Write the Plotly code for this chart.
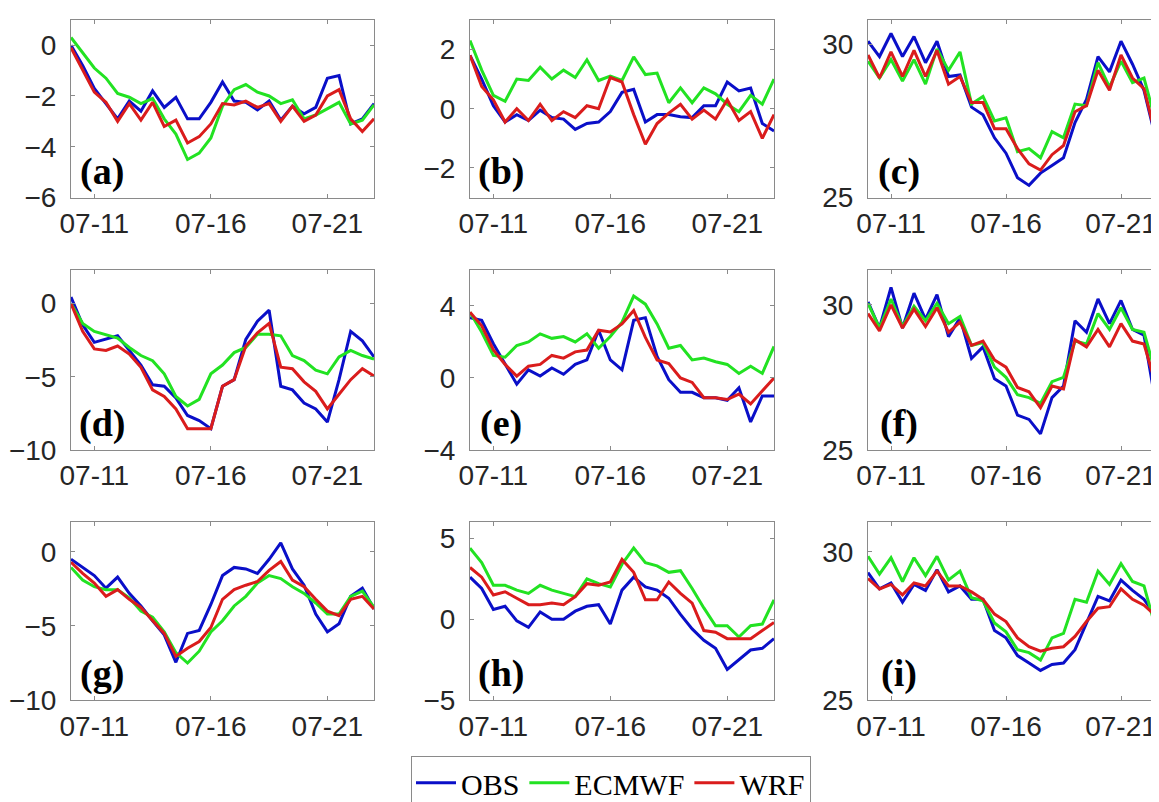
import pandas as pd
import plotly.graph_objects as go

# ---------------- data (12-hourly, 2021-07-10 00:00 .. 2021-07-23 00:00) ----------------
times = pd.date_range("2021-07-10 00:00", periods=27, freq="12h")
tick_dates = ["2021-07-11", "2021-07-16", "2021-07-21"]
tick_text = ["07-11", "07-16", "07-21"]
series_names = ["OBS", "ECMWF", "WRF"]
panel_labels = ["(a)", "(b)", "(c)", "(d)", "(e)", "(f)", "(g)", "(h)", "(i)"]

a_obs = [0.0, -0.8, -1.7, -2.3, -2.9, -2.2, -2.6, -1.8, -2.45, -2.05, -2.9, -2.9, -2.25, -1.45, -2.2,
         -2.25, -2.55, -2.2, -2.95, -2.4, -2.7, -2.45, -1.3, -1.2, -3.1, -2.9, -2.3]
a_ecm = [0.3, -0.3, -0.9, -1.3, -1.9, -2.05, -2.3, -2.1, -2.9, -3.5, -4.5, -4.25, -3.65, -2.4, -1.75,
         -1.55, -1.85, -2.0, -2.3, -2.15, -2.9, -2.75, -2.5, -2.25, -3.1, -2.95, -2.35]
a_wrf = [-0.1, -1.0, -1.85, -2.25, -3.0, -2.3, -2.95, -2.25, -3.2, -2.95, -3.85, -3.6, -3.1, -2.3, -2.35,
         -2.2, -2.45, -2.3, -3.0, -2.4, -3.0, -2.75, -2.0, -1.75, -2.9, -3.4, -2.9]

b_obs = [1.8, 1.0, 0.1, -0.45, -0.2, -0.4, -0.05, -0.3, -0.35, -0.7, -0.5, -0.45, -0.1, 0.55, 0.65,
         -0.45, -0.2, -0.2, -0.27, -0.3, 0.1, 0.1, 0.9, 0.6, 0.7, -0.5, -0.75]
b_ecm = [2.3, 1.3, 0.45, 0.25, 1.0, 0.95, 1.4, 1.0, 1.3, 1.05, 1.65, 0.95, 1.1, 0.95, 1.75,
         1.15, 1.2, 0.2, 0.7, 0.2, 0.7, 0.5, 0.15, -0.1, 0.45, 0.15, 1.0]
b_wrf = [1.8, 0.75, 0.3, -0.45, 0.0, -0.4, 0.15, -0.4, -0.1, -0.3, 0.1, 0.0, 1.05, 0.9, -0.2,
         -1.2, -0.5, -0.15, 0.15, -0.35, -0.05, -0.35, 0.3, -0.4, -0.1, -1.0, -0.2]

c_obs = [30.1, 29.6, 30.35, 29.6, 30.25, 29.4, 30.1, 28.95, 29.0, 27.95, 27.7, 26.95, 26.45, 25.65, 25.4,
         25.8, 26.05, 26.3, 27.45, 28.2, 29.6, 29.1, 30.1, 29.35, 28.5, 26.95, 26.6]
c_ecm = [29.45, 28.9, 29.5, 28.8, 29.5, 28.7, 29.85, 29.15, 29.75, 28.05, 28.3, 27.5, 27.6, 26.5, 26.6,
         26.3, 27.15, 26.95, 28.05, 28.0, 29.4, 28.6, 29.45, 28.75, 28.9, 27.5, 27.7]
c_wrf = [29.65, 28.9, 29.75, 28.95, 29.8, 28.95, 29.8, 28.7, 28.95, 28.1, 28.1, 27.25, 27.25, 26.6, 26.1,
         25.9, 26.4, 26.7, 27.8, 28.0, 29.15, 28.5, 29.65, 28.9, 28.55, 27.05, 26.9]

d_obs = [0.45, -1.45, -2.65, -2.45, -2.2, -3.2, -4.2, -5.55, -5.65, -6.45, -7.65, -8.0, -8.55, -5.65, -5.2,
         -2.45, -1.2, -0.45, -5.65, -5.9, -6.8, -7.2, -8.1, -5.2, -1.9, -2.55, -3.65]
d_ecm = [0.0, -1.35, -1.9, -2.1, -2.35, -3.0, -3.55, -3.9, -4.8, -6.35, -7.0, -6.55, -4.8, -4.2, -3.35,
         -3.0, -2.1, -2.1, -2.2, -3.55, -3.9, -4.55, -4.8, -3.65, -3.2, -3.55, -3.8]
d_wrf = [0.0, -1.9, -3.1, -3.2, -2.9, -3.45, -4.35, -5.9, -6.35, -7.2, -8.55, -8.55, -8.55, -5.65, -5.2,
         -2.9, -2.0, -1.35, -4.35, -4.45, -5.35, -6.0, -7.2, -6.2, -5.2, -4.45, -4.95]

e_obs = [3.35, 3.2, 1.9, 0.8, -0.35, 0.45, 0.1, 0.55, 0.2, 0.75, 1.0, 2.65, 1.0, 0.45, 3.2,
         3.35, 1.2, -0.1, -0.8, -0.8, -1.1, -1.1, -1.25, -0.55, -2.45, -1.0, -1.0]
e_ecm = [3.65, 2.55, 1.25, 1.15, 1.8, 2.0, 2.45, 2.2, 2.3, 2.0, 2.45, 1.65, 2.3, 3.1, 4.55,
         4.1, 3.0, 1.65, 1.8, 1.0, 1.1, 0.9, 0.75, 0.25, 0.65, 0.25, 1.75]
e_wrf = [3.65, 2.9, 1.55, 0.75, 0.1, 0.65, 0.75, 1.25, 1.1, 1.45, 1.55, 2.65, 2.55, 3.0, 3.75,
         2.25, 1.0, 0.8, 0.0, -0.25, -1.1, -1.1, -1.2, -0.9, -1.45, -0.75, 0.0]

f_obs = [30.1, 29.2, 30.6, 29.2, 30.4, 29.5, 30.35, 28.9, 29.55, 28.15, 28.55, 27.45, 27.2, 26.2, 26.05,
         25.55, 26.8, 27.2, 29.45, 29.05, 30.2, 29.35, 30.15, 29.15, 28.95, 26.65, 26.5]
f_ecm = [30.05, 29.2, 30.2, 29.25, 29.95, 29.45, 30.05, 29.35, 29.6, 28.6, 28.7, 27.85, 27.5, 26.9, 26.8,
         26.6, 27.35, 27.5, 28.75, 28.65, 29.7, 29.15, 29.9, 29.15, 29.05, 27.65, 27.75]
f_wrf = [29.7, 29.1, 30.0, 29.2, 29.85, 29.25, 29.9, 29.05, 29.4, 28.6, 28.75, 28.1, 27.85, 27.15, 27.0,
         26.45, 27.2, 27.1, 28.8, 28.55, 29.15, 28.55, 29.35, 28.75, 28.65, 27.3, 27.25]

g_obs = [-0.5, -1.05, -1.6, -2.45, -1.7, -2.8, -3.65, -4.65, -5.6, -7.45, -5.5, -5.3, -3.55, -1.6, -1.05,
         -1.15, -1.45, -0.5, 0.6, -1.15, -2.25, -4.2, -5.4, -4.85, -3.0, -2.45, -3.85]
g_ecm = [-1.05, -1.9, -2.35, -2.55, -2.55, -3.1, -4.0, -4.4, -5.4, -6.8, -7.5, -6.7, -5.4, -4.65, -3.65,
         -3.0, -2.1, -1.6, -1.8, -2.35, -2.8, -3.45, -4.2, -4.2, -3.0, -2.65, -3.75]
g_wrf = [-0.7, -1.45, -2.1, -3.0, -2.55, -3.2, -3.75, -4.65, -5.5, -7.05, -6.5, -6.05, -5.1, -3.2, -2.55,
         -2.25, -2.0, -1.25, -0.65, -1.9, -2.35, -3.2, -4.0, -4.3, -3.2, -3.0, -3.85]

h_obs = [2.6, 1.9, 0.6, 0.8, -0.1, -0.5, 0.45, 0.0, 0.0, 0.5, 0.8, 0.9, -0.3, 1.8, 2.6,
         2.0, 1.8, 1.3, 0.3, -0.6, -1.3, -1.8, -3.1, -2.5, -1.9, -1.8, -1.2]
h_ecm = [4.4, 3.5, 2.1, 2.1, 1.8, 1.6, 2.1, 1.8, 1.6, 1.4, 2.5, 2.2, 2.0, 3.4, 4.4,
         3.5, 3.3, 2.9, 3.0, 1.9, 0.7, -0.4, -0.4, -1.1, -0.4, -0.3, 1.2]
h_wrf = [3.2, 2.6, 1.5, 1.7, 1.3, 0.9, 0.9, 1.0, 0.9, 1.4, 2.2, 2.1, 2.3, 3.7, 2.9,
         1.2, 1.2, 2.3, 1.6, 1.0, -0.7, -0.8, -1.2, -1.2, -1.2, -0.7, -0.2]

i_obs = [29.3, 28.75, 28.95, 28.3, 28.9, 28.7, 29.4, 28.65, 28.85, 28.4, 28.4, 27.35, 27.1, 26.5, 26.25,
         26.0, 26.2, 26.25, 26.7, 27.6, 28.5, 28.35, 29.05, 28.7, 28.4, 27.85, 28.35]
i_ecm = [29.85, 29.25, 29.8, 29.0, 29.8, 29.2, 29.85, 29.05, 29.35, 28.45, 28.35, 27.6, 27.3, 26.7, 26.6,
         26.35, 27.1, 27.25, 28.4, 28.3, 29.35, 28.9, 29.6, 29.0, 28.85, 27.45, 27.6]
i_wrf = [29.1, 28.75, 28.9, 28.55, 28.95, 28.85, 29.35, 28.85, 28.85, 28.65, 28.4, 27.9, 27.65, 27.1, 26.8,
         26.65, 26.75, 26.8, 27.15, 27.65, 28.1, 28.15, 28.75, 28.4, 28.2, 27.85, 28.2]

panels = [
    (a_obs, a_ecm, a_wrf), (b_obs, b_ecm, b_wrf), (c_obs, c_ecm, c_wrf),
    (d_obs, d_ecm, d_wrf), (e_obs, e_ecm, e_wrf), (f_obs, f_ecm, f_wrf),
    (g_obs, g_ecm, g_wrf), (h_obs, h_ecm, h_wrf), (i_obs, i_ecm, i_wrf),
]
y_ranges = [[-6, 1], [-3, 3], [25, 30.8],
            [-10, 2.3], [-4, 6], [25, 31.2],
            [-10, 2], [-5, 6], [25, 31]]
y_ticks = [[-6, -4, -2, 0], [-2, 0, 2], [25, 30],
           [-10, -5, 0], [-4, 0, 4], [25, 30],
           [-10, -5, 0], [-5, 0, 5], [25, 30]]

# ---------------- styling / layout ----------------
W, H = 1159, 802
colors = ["#0a0fc8", "#22e222", "#da1c1c"]
col_px = [(63, 366), (462, 766), (860, 1159)]
row_px = [(12, 194), (268, 452), (526, 708)]
x_ranges = [["2021-07-10 00:00", "2021-07-23 00:00"],
            ["2021-07-10 00:00", "2021-07-23 00:00"],
            ["2021-07-10 00:00", "2021-07-23 00:00"]]
frame_col = "#8a8a8a"
tick_font = dict(family="Liberation Sans, Arial, sans-serif", size=28, color="#262626")

fig = go.Figure()
layout = {}
annotations = []
for idx, (series, yr, yt) in enumerate(zip(panels, y_ranges, y_ticks)):
    r, c = divmod(idx, 3)
    n = idx + 1
    xa = "x" if n == 1 else f"x{n}"
    ya = "y" if n == 1 else f"y{n}"
    for s, (vals, name, col) in enumerate(zip(series, series_names, colors)):
        fig.add_trace(go.Scatter(
            x=times, y=vals, mode="lines", name=name,
            line=dict(color=col, width=3),
            xaxis=xa, yaxis=ya, showlegend=(idx == 0),
            legendgroup=name,
        ))
    x0, x1 = col_px[c]
    y0, y1 = row_px[r]
    xkey = "xaxis" if n == 1 else f"xaxis{n}"
    ykey = "yaxis" if n == 1 else f"yaxis{n}"
    layout[xkey] = dict(
        domain=[x0 / W, x1 / W], anchor=ya, type="date", range=x_ranges[c],
        tickvals=tick_dates, ticktext=tick_text, ticks="inside", ticklen=4,
        tickcolor=frame_col, showline=True, linecolor=frame_col, linewidth=1,
        mirror="ticks", showgrid=False, zeroline=False, tickfont=tick_font,
        ticklabelstandoff=1, automargin=False,
    )
    layout[ykey] = dict(
        domain=[1 - y1 / H, 1 - y0 / H], anchor=xa, range=yr, tickvals=yt,
        ticks="inside", ticklen=4, tickcolor=frame_col, showline=True,
        linecolor=frame_col, linewidth=1, mirror=("ticks" if c < 2 else False),
        showgrid=False, zeroline=False, tickfont=tick_font, automargin=False,
        ticklabelstandoff=8,
    )
    annotations.append(dict(
        text=f"<b>{panel_labels[idx]}</b>", xref="paper", yref="paper",
        x=(x0 + 31) / W, y=1 - (y1 - 27) / H, xanchor="center", yanchor="middle",
        showarrow=False,
        font=dict(family="Liberation Serif, Times New Roman, serif", size=38, color="black"),
    ))

fig.update_layout(
    width=W, height=H,
    margin=dict(l=0, r=0, t=0, b=0),
    paper_bgcolor="white", plot_bgcolor="white",
    annotations=annotations,
    legend=dict(
        orientation="h", x=403 / W, y=1 - 765 / H, xanchor="left", yanchor="top",
        bordercolor="#8a8a8a", borderwidth=1, bgcolor="white",
        font=dict(family="Liberation Serif, Times New Roman, serif", size=30, color="black"),
        itemwidth=40, tracegroupgap=0,
    ),
    **layout,
)

fig.write_html("out.html")
